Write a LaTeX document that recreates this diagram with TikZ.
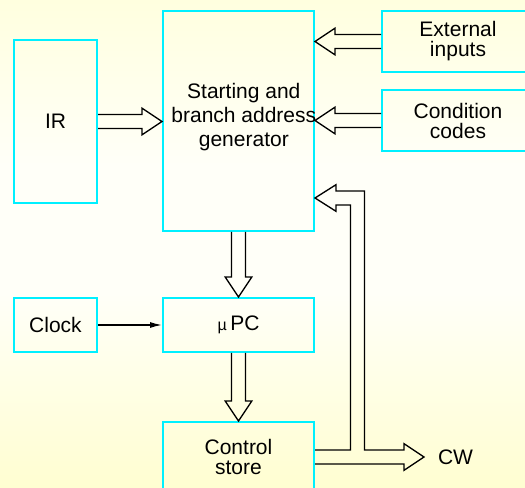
\documentclass[tikz,border=0pt]{standalone}
\usepackage{fontspec}
\setmainfont{Liberation Sans}
\usetikzlibrary{calc,positioning,arrows.meta}

\definecolor{boxcyan}{RGB}{0,240,255}
\definecolor{bgtop}{RGB}{255,255,186}
\definecolor{bgmid}{RGB}{255,255,248}
\definecolor{bgbot}{RGB}{255,253,160}
\pgfdeclareverticalshading{slidebg}{100bp}{color(0bp)=(bgbot); color(45bp)=(bgmid); color(58bp)=(bgmid); color(100bp)=(bgtop)}

\begin{document}
\begin{tikzpicture}[x=0.75pt, y=-0.75pt,
	blk/.style={draw=boxcyan, line width=1.5pt, align=center, inner sep=0pt,
		font=\fontsize{15.75}{15}\selectfont},
	wire/.style={line width=1pt, line join=miter},
	% hollow arrow drawn as an outline from start to target
	fat/.style={wire, to path={
		($(\tikztostart)!5.25pt!90:(\tikztotarget)$)
		-- ($(\tikztotarget)!15pt!(\tikztostart)!5.25pt!-90:(\tikztostart)$)
		-- ($(\tikztotarget)!15pt!(\tikztostart)!10pt!-90:(\tikztostart)$)
		-- (\tikztotarget)
		-- ($(\tikztotarget)!15pt!(\tikztostart)!10pt!90:(\tikztostart)$)
		-- ($(\tikztotarget)!15pt!(\tikztostart)!5.25pt!90:(\tikztostart)$)
		-- ($(\tikztostart)!5.25pt!-90:(\tikztotarget)$)}}]
	\shade[shading=slidebg] (0,0) rectangle (525,488);
	\useasboundingbox (0,0) rectangle (525,488);

	\node[blk, minimum width=62.25pt, minimum height=122.25pt] (ir) at (55.5,121.5) {IR};
	\node[blk, minimum width=113.25pt, minimum height=165pt,
		label={[align=center, xshift=4pt, yshift=3pt, font=\fontsize{15.75}{18}\selectfont]center:Starting and\\branch address\\generator}] (sbag) at (238.5,121) {};
	\node[blk, minimum width=114pt, minimum height=45.75pt] (ext) at (458,41.5) {External\\inputs};
	\node[blk, minimum width=114pt, minimum height=45.75pt] (cond) at (458,120.5) {Condition\\codes};
	\node[blk, minimum width=62.25pt, minimum height=40.5pt] (clock) at (55.5,325) {Clock};
	\node[blk, minimum width=113.25pt, minimum height=40.5pt] (upc) at (238.5,325) {{\fontsize{12}{12}\selectfont µ}\,PC};
	\node[blk, minimum width=113.25pt, minimum height=52.5pt] (cstore) at (238.5,457) {Control\\store};

	\coordinate (irin) at (ir.east -| sbag.west);
	\coordinate (extin) at (ext.west -| sbag.east);
	\coordinate (condin) at (cond.west -| sbag.east);
	\coordinate (fbtip) at (sbag.east |- 0,198);
	\coordinate (cwtip) at (424,457);
	\node[right=7pt of cwtip, font=\fontsize{15.75}{15}\selectfont] (cw) {CW};

	\draw[fat] (ir.east) to (irin);
	\draw[fat] (ext.west) to (extin);
	\draw[fat] (cond.west) to (condin);
	\draw[fat] (sbag.south) to (upc.north);
	\draw[fat] (upc.south) to (cstore.north);
	\draw[wire, -{Latex[length=9pt, width=4.5pt]}] (clock) -- (upc);

	\draw[wire] ([yshift=5.25pt]cstore.east) -- (350.5,450) -- (350.5,205) -- (336,205)
		-- (336,211.3) -- (fbtip) -- (336,184.7) -- (336,191) -- (364.5,191) -- (364.5,450)
		-- (404,450) -- (404,443.7) -- (cwtip) -- (404,470.3) -- (404,464)
		-- ([yshift=-5.25pt]cstore.east);
\end{tikzpicture}
\end{document}
